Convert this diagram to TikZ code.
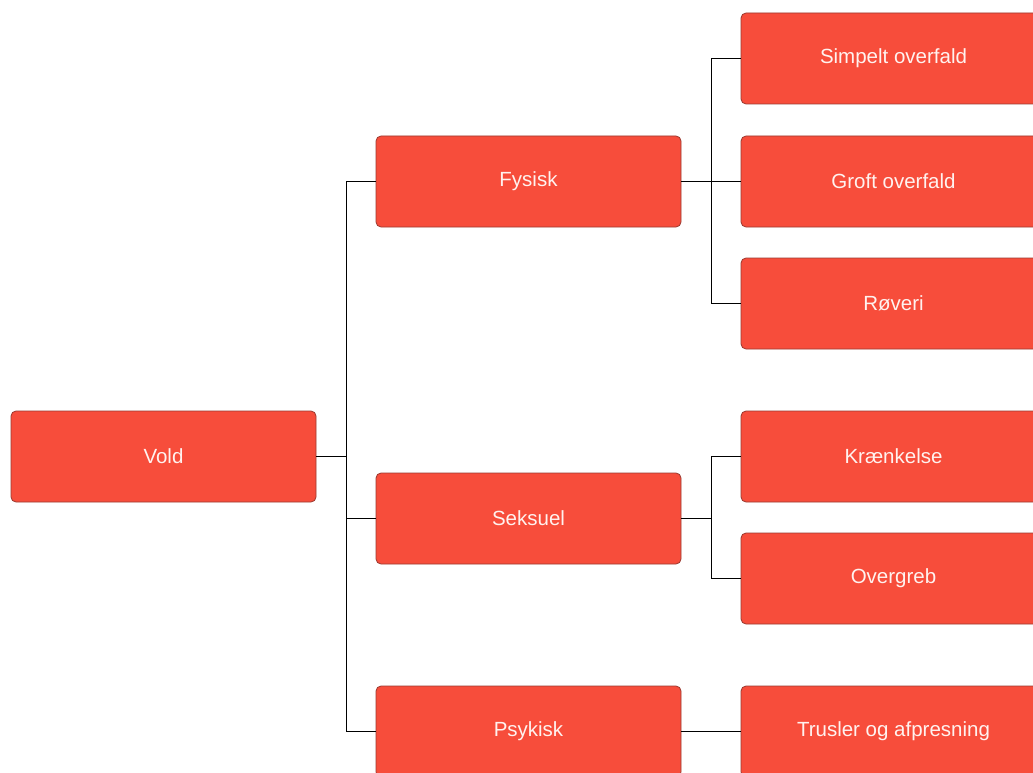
\documentclass[tikz,border=0pt]{standalone}
\usepackage{fontspec}
\setmainfont{Liberation Sans}
\definecolor{boxfill}{HTML}{F74D3B}
\definecolor{boxline}{HTML}{9A3A30}
\definecolor{boxtext}{HTML}{FFF2EF}
\begin{document}
\begin{tikzpicture}[x=1pt,y=-1pt,
  cat/.style={draw=boxline, line width=0.8pt, fill=boxfill, rounded corners=5pt,
    minimum width=305pt, minimum height=91pt, inner sep=0pt,
    text=boxtext, font=\fontsize{20.5}{23}\selectfont, anchor=center},
  conn/.style={draw=black, line width=0.8pt}]
\useasboundingbox (0,0) rectangle (1033,773);
\node[cat] (vold) at (163.5,456.5) {Vold};
\node[cat] (fys) at (528.5,181.5) {Fysisk};
\node[cat] (sek) at (528.5,518.5) {Seksuel};
\node[cat] (psy) at (528.5,731.5) {Psykisk};
\node[cat] (sim) at (893.5,58.5) {Simpelt overfald};
\node[cat] (gro) at (893.5,181.5) {Groft overfald};
\node[cat] (rov) at (893.5,303.5) {Røveri};
\node[cat] (kra) at (893.5,456.5) {Krænkelse};
\node[cat] (ove) at (893.5,578.5) {Overgreb};
\node[cat] (tru) at (893.5,731.5) {Trusler og afpresning};
\coordinate (j1) at (346,0);
\coordinate (j2) at (711,0);
\draw[conn] (vold.east) -- (vold.east -| j1);
\draw[conn] (fys.west -| j1) -- (psy.west -| j1);
\draw[conn] (fys.west -| j1) -- (fys.west);
\draw[conn] (sek.west -| j1) -- (sek.west);
\draw[conn] (psy.west -| j1) -- (psy.west);
\draw[conn] (fys.east) -- (gro.west);
\draw[conn] (sim.west -| j2) -- (rov.west -| j2);
\draw[conn] (sim.west -| j2) -- (sim.west);
\draw[conn] (rov.west -| j2) -- (rov.west);
\draw[conn] (sek.east) -- (sek.east -| j2);
\draw[conn] (kra.west -| j2) -- (ove.west -| j2);
\draw[conn] (kra.west -| j2) -- (kra.west);
\draw[conn] (ove.west -| j2) -- (ove.west);
\draw[conn] (psy.east) -- (tru.west);
\end{tikzpicture}
\end{document}
